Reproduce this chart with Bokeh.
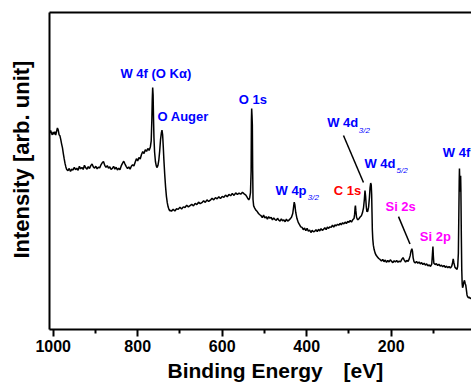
import math

from bokeh.plotting import figure
from bokeh.models import ColumnDataSource, Range1d, LinearAxis, FixedTicker, Label, Arrow
from bokeh.embed import file_html
from bokeh.resources import INLINE

# XPS survey spectrum: (binding energy [eV], intensity [arb. unit]) pairs
survey_1010_770 = [
    (1008, 62.0), (1006, 62.8), (1004, 61.9), (1002, 61.4), (1000, 62.3), (998, 61.6),
    (996, 62.4), (994, 61.3), (992, 62.5), (990, 63.6), (988, 62.9), (986, 61.4),
    (984, 61.1), (982, 59.9), (980, 58.5), (978, 57.3), (976, 55.5), (974, 53.9),
    (972, 52.4), (970, 51.3), (968, 50.5), (965, 50.1), (962, 50.8), (959, 49.9),
    (956, 50.6), (953, 50.3), (950, 51.2), (947, 50.4), (944, 50.9), (941, 50.2),
    (938, 51.5), (935, 50.7), (932, 51.1), (929, 50.5), (926, 51.8), (923, 51.0),
    (920, 50.6), (917, 51.4), (914, 50.8), (911, 51.7), (908, 52.2), (905, 51.3),
    (902, 50.9), (899, 51.5), (896, 50.7), (893, 51.2), (890, 51.0), (887, 51.9),
    (884, 52.6), (881, 53.0), (878, 51.8), (875, 51.2), (872, 51.7), (869, 50.9),
    (866, 51.3), (863, 50.5), (860, 50.8), (857, 51.5), (854, 50.6), (851, 51.2),
    (848, 50.3), (845, 50.9), (842, 50.4), (839, 51.6), (836, 52.4), (833, 53.1),
    (830, 52.2), (827, 51.4), (824, 50.8), (821, 51.3), (818, 50.6), (815, 51.5),
    (812, 52.0), (809, 51.6), (806, 52.8), (803, 53.9), (800, 53.2), (797, 54.3),
    (794, 53.8), (791, 55.2), (788, 56.1), (785, 55.5), (782, 56.7), (779, 56.2),
    (776, 57.1), (773, 56.5), (770, 57.6),
]

# W 4f excited by the O K-alpha line, and the O KLL Auger line
survey_770_720 = [
    (768, 59.5), (766.5, 66.0), (765.5, 72.5), (764.5, 76.3), (763.5, 74.0),
    (762.5, 66.5), (761.5, 60.5), (760, 56.0), (758, 53.0), (756, 51.6), (754, 51.1),
    (752, 51.8), (750, 53.4), (748, 56.2), (746, 59.8), (744, 62.0), (742.5, 62.9),
    (741, 61.5), (739.5, 57.8), (738, 53.6), (736, 48.9), (734, 45.0), (732, 42.0),
    (730, 40.0), (728, 38.7), (726, 37.9), (724, 37.4), (722, 37.6),
]

# background up to and across O 1s
survey_720_510 = [
    (720, 37.3), (716, 37.9), (712, 37.4), (708, 38.1), (704, 37.9), (700, 38.6),
    (696, 38.0), (692, 38.7), (688, 38.5), (684, 39.2), (680, 38.7), (676, 39.1),
    (672, 39.5), (668, 39.0), (664, 39.8), (660, 39.4), (656, 40.2), (652, 39.7),
    (648, 40.0), (644, 40.6), (640, 40.1), (636, 40.9), (632, 40.4), (628, 40.8),
    (624, 41.4), (620, 40.9), (616, 41.6), (612, 41.2), (608, 41.9), (604, 41.3),
    (600, 42.0), (596, 41.7), (592, 42.4), (588, 41.9), (584, 42.6), (580, 42.2),
    (576, 42.9), (572, 42.3), (568, 43.1), (564, 42.6), (560, 43.0), (556, 42.7),
    (552, 43.3), (548, 42.8), (544, 42.4), (540, 41.5), (537, 40.9), (535, 41.5),
    (533, 43.2), (531.5, 50.0), (530.8, 66.0), (530.2, 69.7), (529.4, 67.5),
    (528.6, 64.5), (527.8, 50.0), (527, 41.0), (525.5, 39.0), (523, 38.3),
    (520, 37.6), (517, 37.2), (514, 36.6), (511, 36.2),
]

# W 4p3/2, C 1s and the W 4d doublet
survey_510_225 = [
    (508, 35.9), (505, 35.3), (502, 36.1), (499, 35.2), (496, 35.6), (493, 34.8),
    (490, 35.6), (487, 35.1), (484, 35.4), (481, 34.6), (478, 35.2), (475, 34.7),
    (472, 34.4), (469, 35.1), (466, 34.5), (463, 34.2), (460, 34.9), (457, 34.3),
    (454, 34.6), (451, 34.0), (448, 34.8), (445, 34.2), (442, 34.5), (439, 34.9),
    (436, 35.4), (433, 36.6), (431, 38.6), (429.5, 40.2), (428, 39.4), (426, 37.0),
    (423, 35.0), (420, 33.8), (417, 33.1), (414, 32.4), (411, 32.2), (408, 31.5),
    (405, 32.0), (402, 31.2), (399, 31.9), (396, 31.0), (393, 31.4), (390, 30.6),
    (387, 31.3), (384, 30.8), (381, 31.0), (378, 31.5), (375, 30.9), (372, 31.6),
    (369, 31.1), (366, 31.8), (363, 31.3), (360, 31.6), (357, 32.1), (354, 31.5),
    (351, 32.3), (348, 31.9), (345, 32.4), (342, 32.2), (339, 32.9), (336, 32.3),
    (333, 33.0), (330, 32.7), (327, 33.2), (324, 32.9), (321, 33.5), (318, 33.0),
    (315, 33.7), (312, 33.3), (309, 33.9), (306, 33.4), (303, 34.1), (300, 33.8),
    (297, 34.4), (294, 33.9), (291, 34.6), (288, 35.0), (286.5, 36.4), (285.3, 38.6),
    (284.6, 39.1), (283.6, 37.5), (282, 35.4), (279.5, 34.6), (276.5, 34.9),
    (273.5, 35.5), (270.5, 35.9), (268, 36.8), (265.5, 38.4), (263.5, 41.0),
    (262, 43.8), (260.5, 42.0), (259, 38.8), (257.5, 37.2), (255.5, 37.3),
    (253.5, 38.6), (251.5, 41.6), (250, 44.8), (248.5, 46.2), (247.2, 45.6),
    (246.2, 42.5), (245.4, 37.0), (244.6, 31.5), (243.6, 28.6), (242.2, 26.6),
    (240.5, 25.3), (238, 24.1), (235.5, 23.4), (232.5, 22.9), (229.5, 22.4),
    (226.5, 22.1),
]

# Si 2s, Si 2p, the W 4f doublet and the low-energy tail
survey_225_10 = [
    (223, 21.6), (220, 22.1), (217, 21.4), (214, 21.9), (211, 21.2), (208, 21.8),
    (205, 21.3), (202, 22.0), (199, 21.5), (196, 21.1), (193, 21.7), (190, 21.3),
    (187, 21.8), (184, 21.2), (181, 21.6), (178, 21.3), (175, 22.1), (172, 22.7),
    (169, 21.9), (166, 21.3), (163, 21.8), (160, 21.5), (157.5, 22.2), (155, 23.3),
    (153, 24.8), (151, 25.5), (149.5, 24.6), (148, 22.6), (146, 21.4), (143, 21.0),
    (140, 21.5), (137, 20.9), (134, 21.3), (131, 20.7), (128, 21.1), (125, 20.5),
    (122, 20.9), (119, 20.3), (116, 20.7), (113, 20.1), (110, 20.4), (107, 19.9),
    (104, 20.6), (102.5, 23.5), (101.2, 26.2), (100.2, 23.2), (99, 20.9), (96, 20.5),
    (93, 20.8), (90, 20.2), (87, 20.6), (84, 20.0), (81, 20.3), (78, 19.8),
    (75, 20.2), (72, 19.6), (69, 20.0), (66, 19.5), (63, 19.9), (60, 19.4),
    (57, 19.9), (55, 20.8), (53.2, 22.3), (51.5, 21.0), (49, 19.6), (46, 19.2),
    (44, 19.0), (42.5, 20.0), (41, 24.0), (40, 35.0), (39, 46.5), (38.4, 50.8),
    (37.7, 47.0), (37, 43.5), (36.2, 46.0), (35.6, 48.5), (35, 44.0), (34, 30.0),
    (33, 19.0), (32, 14.5), (31, 13.2), (29.5, 13.8), (28, 15.0), (26.5, 15.5),
    (25, 14.6), (23.5, 14.0), (22, 12.5), (20.5, 10.9), (19, 10.3), (17, 10.0),
    (15, 10.2), (13, 9.8), (11, 9.9), (10, 9.7),
]

tick_values = [1000, 800, 600, 400, 200]
minor_tick_values = [900, 700, 500, 300, 100]

spectrum = survey_1010_770 + survey_770_720 + survey_720_510 + survey_510_225 + survey_225_10
binding_energy = [be for be, _ in spectrum]
intensity = [counts for _, counts in spectrum]

FONT = "Liberation Sans"
BLUE = "#0000FF"
RED = "#FF0000"
MAGENTA = "#FF00FF"

# the plotting frame spans the whole canvas; the axes are pinned inside it so the
# titles can sit in the margin area as ordinary labels
BE_LEFT, BE_RIGHT = 1008.8, 9.9       # extent of the boxed region along x
I_BOTTOM, I_TOP = 0.0, 100.0          # extent of the boxed region along y

p = figure(
    width=471, height=383,
    x_range=Range1d(1124.7, 9.9), y_range=Range1d(-17.03, 103.79),
    output_backend="svg", toolbar_location=None,
    min_border_left=0, min_border_right=0, min_border_top=0, min_border_bottom=0,
)
p.title.visible = False
p.outline_line_color = None
p.xgrid.visible = False
p.ygrid.visible = False
p.background_fill_color = "white"
p.border_fill_color = "white"

source = ColumnDataSource(data=dict(be=binding_energy, counts=intensity))
p.line("be", "counts", source=source, line_color="black", line_width=1.5)

xa = p.xaxis[0]
xa.fixed_location = I_BOTTOM
xa.bounds = (BE_RIGHT, BE_LEFT)
xa.ticker = FixedTicker(ticks=tick_values, minor_ticks=minor_tick_values)
xa.axis_line_width = 2
xa.major_tick_line_width = 2
xa.minor_tick_line_width = 2
xa.major_tick_in = 0
xa.major_tick_out = 7
xa.minor_tick_in = 0
xa.minor_tick_out = 4
xa.major_label_standoff = 3
xa.major_label_text_font = FONT
xa.major_label_text_font_style = "bold"
xa.major_label_text_font_size = "16px"
xa.major_label_text_color = "black"

ya = p.yaxis[0]
ya.fixed_location = BE_LEFT
ya.bounds = (I_BOTTOM, I_TOP)
ya.ticker = FixedTicker(ticks=[])
ya.axis_line_width = 2
ya.major_tick_line_color = None
ya.minor_tick_line_color = None

top = LinearAxis(ticker=FixedTicker(ticks=[]), axis_line_width=2,
                 major_tick_line_color=None, minor_tick_line_color=None,
                 fixed_location=I_TOP, bounds=(BE_RIGHT, BE_LEFT))
p.add_layout(top, "above")


def add_text(x, y, text, color, size="13px", style="bold", angle=0.0, align="left"):
    p.add_layout(Label(x=x, y=y, text=text, text_color=color, text_font=FONT,
                       text_font_size=size, text_font_style=style, angle=angle,
                       text_align=align, text_baseline="alphabetic"))


# peak assignments
add_text(840.7, 80.7, "W 4f (O Kα)", BLUE)
add_text(753.1, 67.3, "O Auger", BLUE)
add_text(560.7, 72.6, "O 1s", BLUE)
add_text(473.8, 43.9, "W 4p", BLUE)
add_text(397.5, 41.7, "3/2", BLUE, size="8px", style="italic")
add_text(335.8, 43.7, "C 1s", RED)
add_text(351.5, 65.2, "W 4d", BLUE)
add_text(276.7, 62.7, "3/2", BLUE, size="8px", style="italic")
add_text(263.2, 52.4, "W 4d", BLUE)
add_text(187.5, 50.1, "5/2", BLUE, size="8px", style="italic")
add_text(77.9, 55.8, "W 4f", BLUE)
add_text(213.5, 38.9, "Si 2s", MAGENTA)
add_text(132.3, 29.3, "Si 2p", MAGENTA)

# pointer lines
p.add_layout(Arrow(x_start=312.9, y_start=61.2, x_end=265.6, y_end=46.4,
                   end=None, line_color="black", line_width=1.5))
p.add_layout(Arrow(x_start=182.7, y_start=35.6, x_end=155.5, y_end=27.0,
                   end=None, line_color="black", line_width=1.5))

# axis titles
add_text(729.5, -12.9, "Binding Energy", "black", size="21px")
add_text(312.9, -12.9, "[eV]", "black", size="21px")
add_text(1075.7, 53.6, "Intensity [arb. unit]", "black", size="22px",
         angle=math.pi / 2, align="center")

open("out.html", "w").write(file_html(p, INLINE))
